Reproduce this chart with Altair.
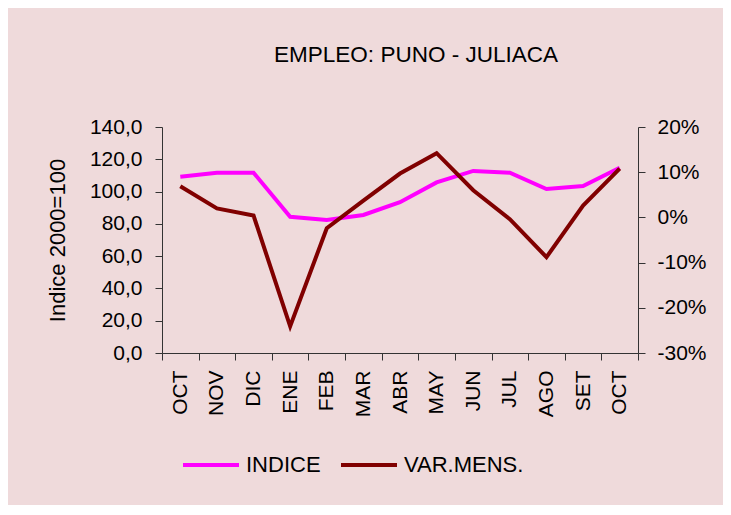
import altair as alt
import pandas as pd

months = ["OCT", "NOV", "DIC", "ENE", "FEB", "MAR", "ABR", "MAY", "JUN", "JUL", "AGO", "SET", "OCT"]
indice = [109.2, 111.7, 111.7, 84.4, 82.4, 85.5, 93.4, 105.7, 112.8, 111.7, 101.6, 103.5, 114.8]
var_mens = [6.9, 2.0, 0.4, -24.1, -2.4, 3.7, 9.7, 14.2, 6.0, -0.4, -8.8, 2.6, 10.8]  # percent
left_ticks = [0, 20, 40, 60, 80, 100, 120, 140]
right_ticks = [-0.3, -0.2, -0.1, 0, 0.1, 0.2]

FONT = "Liberation Sans"
BG = "#EFDADB"

idx = list(range(len(months)))
df_i = pd.DataFrame({"idx": idx, "valor": indice, "serie": "INDICE"})
df_v = pd.DataFrame({"idx": idx, "valor": [v / 100 for v in var_mens], "serie": "VAR.MENS."})

label_expr = "[" + ",".join("'" + m + "'" for m in months) + "][datum.value]"

x_enc = alt.X(
    "idx:O",
    scale=alt.Scale(type="band", paddingInner=0, paddingOuter=0),
    axis=alt.Axis(
        title=None,
        labelExpr=label_expr,
        labelAngle=-90,
        labelAlign="right",
        labelBaseline="middle",
        labelFontSize=21,
        labelPadding=10,
        tickBand="extent",
        tickSize=7,
    ),
)

color_enc = alt.Color(
    "serie:N",
    scale=alt.Scale(domain=["INDICE", "VAR.MENS."], range=["#FF00FF", "#800000"]),
    legend=alt.Legend(
        title=None,
        orient="none",
        legendX=19,
        legendY=308,
        direction="horizontal",
        symbolType="stroke",
        symbolSize=3136,
        symbolStrokeWidth=4,
        labelFontSize=22,
        labelFont=FONT,
        labelColor="black",
        labelOffset=5,
        columnPadding=12,
        labelLimit=300,
    ),
)

line_i = alt.Chart(df_i).mark_line(strokeWidth=4).encode(
    x=x_enc,
    y=alt.Y(
        "valor:Q",
        scale=alt.Scale(domain=[0, 140], nice=False),
        axis=alt.Axis(
            orient="left",
            values=left_ticks,
            labelExpr="replace(format(datum.value, '.1f'), '.', ',')",
            title="Indice 2000=100",
            titleFontSize=22,
            titleFontWeight="normal",
            titleFont=FONT,
            titleX=-98,
            titleBaseline="alphabetic",
            labelFontSize=21,
            labelPadding=13,
            tickSize=7,
            grid=False,
        ),
    ),
    color=color_enc,
)

line_v = alt.Chart(df_v).mark_line(strokeWidth=4).encode(
    x=x_enc,
    y=alt.Y(
        "valor:Q",
        scale=alt.Scale(domain=[-0.3, 0.2], nice=False),
        axis=alt.Axis(
            orient="right",
            values=right_ticks,
            labelExpr="(datum.value < -0.0001 ? '-' : '') + format(abs(datum.value), '.0%')",
            title=None,
            labelFontSize=21,
            labelPadding=12,
            tickSize=7,
            grid=False,
        ),
    ),
    color=color_enc,
)

chart = (
    alt.layer(line_i, line_v)
    .resolve_scale(y="independent")
    .properties(
        width=476,
        height=226,
        title=alt.TitleParams(
            "EMPLEO: PUNO - JULIACA",
            fontSize=22.5,
            font=FONT,
            fontWeight="normal",
            color="black",
            anchor="middle",
            baseline="alphabetic",
            offset=32,
            dx=16,
        ),
        background=BG,
        padding={"left": 154, "top": 119, "right": 85, "bottom": 152},
        autosize=alt.AutoSizeParams(type="none"),
    )
    .configure_view(stroke=None)
    .configure_axis(
        labelFont=FONT,
        labelColor="black",
        domainColor="#333333",
        tickColor="#333333",
        domainWidth=1,
        tickWidth=1,
    )
)

chart.save("out.html", embed_options={"renderer": "svg", "actions": False})
